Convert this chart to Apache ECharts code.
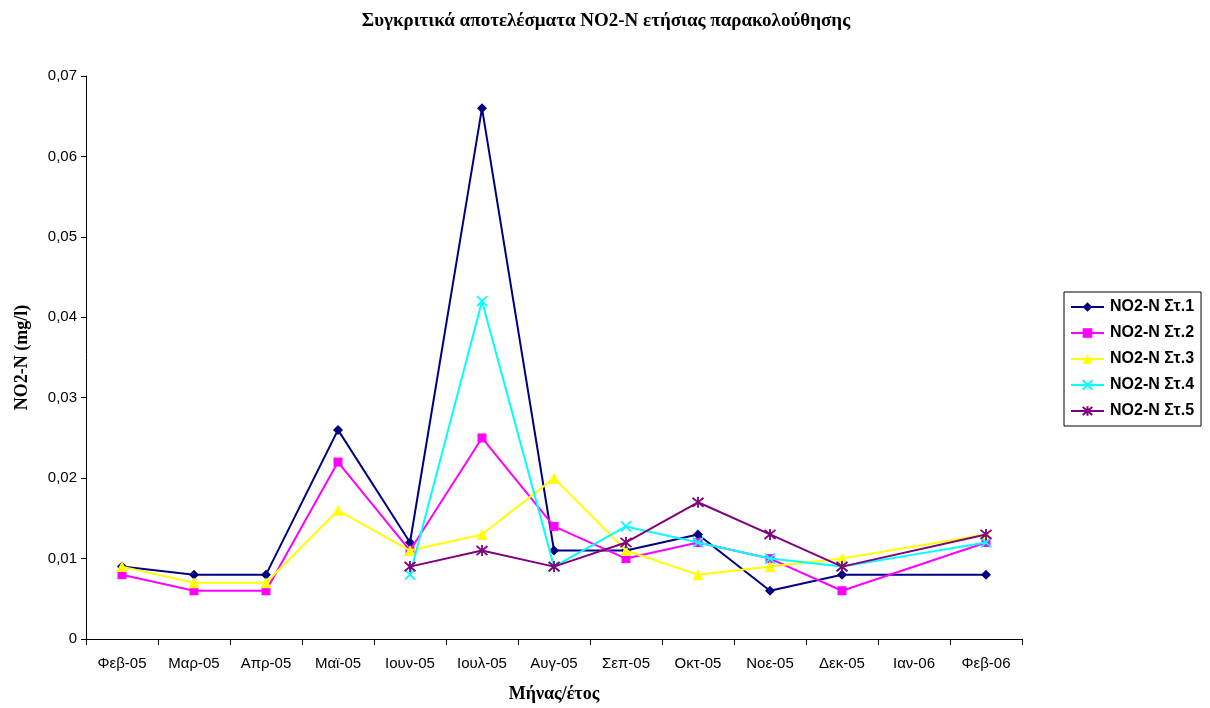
<!DOCTYPE html>
<html>
<head>
<meta charset="utf-8">
<script src="https://cdn.jsdelivr.net/npm/echarts@6/dist/echarts.min.js"></script>
<style>
  html, body { margin: 0; padding: 0; background: #fff; }
  #chart { width: 1210px; height: 708px; }
</style>
</head>
<body>
<div id="chart"></div>
<script>
// Months of the monitoring year
const months = ['Φεβ-05', 'Μαρ-05', 'Απρ-05', 'Μαϊ-05', 'Ιουν-05', 'Ιουλ-05', 'Αυγ-05',
                'Σεπ-05', 'Οκτ-05', 'Νοε-05', 'Δεκ-05', 'Ιαν-06', 'Φεβ-06'];

// NO2-N concentrations (mg/l) per station; null = no sample
const st1 = [0.009, 0.008, 0.008, 0.026, 0.012, 0.066, 0.011, 0.011, 0.013, 0.006, 0.008, null, 0.008];
const st2 = [0.008, 0.006, 0.006, 0.022, 0.011, 0.025, 0.014, 0.010, 0.012, 0.010, 0.006, null, 0.012];
const st3 = [0.009, 0.007, 0.007, 0.016, 0.011, 0.013, 0.020, 0.011, 0.008, 0.009, 0.010, null, 0.013];
const st4 = [null, null, null, null, 0.008, 0.042, 0.009, 0.014, 0.012, 0.010, 0.009, null, 0.012];
const st5 = [null, null, null, null, 0.009, 0.011, 0.009, 0.012, 0.017, 0.013, 0.009, null, 0.013];

// Y axis ticks
const yMin = 0, yMax = 0.07, yStep = 0.01;

const names = ['NO2-N Στ.1', 'NO2-N Στ.2', 'NO2-N Στ.3', 'NO2-N Στ.4', 'NO2-N Στ.5'];
const values = [st1, st2, st3, st4, st5];
const colors = ['#000080', '#FF00FF', '#FFFF00', '#00FFFF', '#800080'];
const symbols = [
  'diamond',
  'rect',
  'triangle',
  'path://M0,0L10,10M10,0L0,10',
  'path://M0,0L10,10M10,0L0,10M5,-1L5,11'
];
const sizes = [10, 9, 11, 10, 11];

const series = names.map((n, i) => {
  const stroked = i >= 3;
  return {
    name: n,
    type: 'line',
    data: values[i],
    connectNulls: true,
    symbol: symbols[i],
    symbolSize: sizes[i],
    showAllSymbol: true,
    lineStyle: { color: colors[i], width: 2 },
    itemStyle: stroked
      ? { color: colors[i], borderColor: colors[i], borderWidth: 1.8 }
      : { color: colors[i], borderWidth: 0 },
    emphasis: { disabled: true },
    animation: false,
    z: 2 + i
  };
});

const chart = echarts.init(document.getElementById('chart'));
chart.setOption({
  animation: false,
  backgroundColor: '#ffffff',
  title: {
    text: 'Συγκριτικά αποτελέσματα NO2-N ετήσιας παρακολούθησης',
    left: 601,
    textAlign: 'center',
    top: 7,
    textStyle: { fontFamily: 'Liberation Serif', fontWeight: 'bold', fontSize: 19, color: '#000' }
  },
  legend: {
    orient: 'vertical',
    left: 1064,
    top: 292,
    padding: [7, 7, 7, 6],
    itemGap: 10,
    itemWidth: 33,
    itemHeight: 12,
    borderColor: '#000',
    borderWidth: 1,
    textStyle: { fontFamily: 'Liberation Sans', fontWeight: 'bold', fontSize: 16, lineHeight: 16, color: '#000', padding: [0, 0, 0, 1] },
    data: names
  },
  grid: { left: 86, right: 188, top: 76, bottom: 69, containLabel: false },
  xAxis: {
    type: 'category',
    data: months,
    boundaryGap: true,
    name: 'Μήνας/έτος',
    nameLocation: 'middle',
    nameGap: 46,
    nameTextStyle: { fontFamily: 'Liberation Serif', fontWeight: 'bold', fontSize: 18, color: '#000' },
    axisLine: { lineStyle: { color: '#000', width: 1 } },
    axisTick: { show: true, length: 6, lineStyle: { color: '#000' } },
    axisLabel: { fontFamily: 'Liberation Sans', fontSize: 15, color: '#000', margin: 17, interval: 0 },
    splitLine: { show: false }
  },
  yAxis: {
    type: 'value',
    min: yMin,
    max: yMax,
    interval: yStep,
    name: 'NO2-N (mg/l)',
    nameLocation: 'middle',
    nameGap: 55,
    nameTextStyle: { fontFamily: 'Liberation Serif', fontWeight: 'bold', fontSize: 18, color: '#000' },
    axisLine: { show: true, lineStyle: { color: '#000', width: 1 } },
    axisTick: { show: true, length: 5, lineStyle: { color: '#000' } },
    axisLabel: {
      fontFamily: 'Liberation Sans', fontSize: 15, color: '#000', margin: 9,
      formatter: v => v === 0 ? '0' : v.toFixed(2).replace('.', ',')
    },
    splitLine: { show: false }
  },
  series: series
});
</script>
</body>
</html>
